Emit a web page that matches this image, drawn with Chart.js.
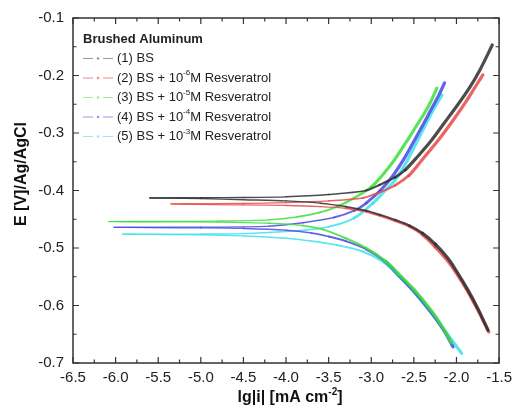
<!DOCTYPE html>
<html>
<head>
<meta charset="utf-8">
<script src="https://cdn.jsdelivr.net/npm/chart.js@4.4.0/dist/chart.umd.min.js"></script>
<style>
  html, body { margin: 0; padding: 0; background: #fff; }
  canvas { display: block; }
</style>
</head>
<body>
<canvas id="tafel" width="518" height="409"></canvas>
<script>
// Potentiodynamic polarisation (Tafel) curves, brushed aluminium in BS
// with increasing resveratrol concentration. Each series runs from the
// cathodic end, through the corrosion potential, out to the anodic end.

const xTicks = [-6.5, -6.0, -5.5, -5.0, -4.5, -4.0, -3.5, -3.0, -2.5, -2.0, -1.5];
const yTicks = [-0.7, -0.6, -0.5, -0.4, -0.3, -0.2, -0.1];

const legendTitle = 'Brushed Aluminum';
const legendPre  = ['(1) BS', '(2) BS + 10', '(3) BS + 10', '(4) BS + 10', '(5) BS + 10'];
const legendSup  = ['', '-6', '-5', '-4', '-3'];
const legendPost = ['', 'M Resveratrol', 'M Resveratrol', 'M Resveratrol', 'M Resveratrol'];

// (1) BS
const s1Lg = [-1.63, -1.75, -1.87, -2.00, -2.10, -2.25, -2.40, -2.55, -2.72, -2.90, -3.06, -3.30, -3.60, -4.00, -4.50, -5.00, -5.60,
              -5.00, -4.50, -4.00, -3.50, -3.06, -2.90, -2.72, -2.60, -2.45, -2.30, -2.15, -2.00, -1.85, -1.72, -1.58];
const s1E  = [-0.643, -0.605, -0.572, -0.540, -0.518, -0.493, -0.474, -0.461, -0.451, -0.442, -0.435, -0.428, -0.422, -0.418, -0.416, -0.414, -0.413,
              -0.4125, -0.4122, -0.411, -0.407, -0.400, -0.390, -0.377, -0.364, -0.340, -0.314, -0.284, -0.254, -0.222, -0.189, -0.147];

// (2) BS + 1e-6 M
const s2Lg = [-1.62, -1.75, -1.87, -2.00, -2.10, -2.25, -2.40, -2.55, -2.72, -2.90, -3.06, -3.30, -3.60, -4.00, -4.50, -5.35,
              -4.50, -4.00, -3.50, -3.10, -2.90, -2.72, -2.56, -2.40, -2.20, -2.05, -1.90, -1.78, -1.69];
const s2E  = [-0.646, -0.608, -0.575, -0.544, -0.523, -0.498, -0.477, -0.463, -0.453, -0.444, -0.437, -0.431, -0.428, -0.426, -0.425, -0.4235,
              -0.4225, -0.421, -0.418, -0.413, -0.403, -0.391, -0.374, -0.346, -0.310, -0.280, -0.248, -0.220, -0.199];

// (3) BS + 1e-5 M
const s3Lg = [-2.06, -2.15, -2.29, -2.50, -2.68, -2.83, -3.06, -3.30, -3.56, -3.80, -4.20, -4.80, -5.50, -6.08,
              -5.50, -4.80, -4.20, -3.87, -3.60, -3.40, -3.20, -3.00, -2.85, -2.72, -2.60, -2.48, -2.37, -2.30, -2.23];
const s3E  = [-0.665, -0.641, -0.610, -0.572, -0.545, -0.523, -0.500, -0.483, -0.468, -0.461, -0.457, -0.455, -0.4545, -0.454,
              -0.4538, -0.4532, -0.451, -0.446, -0.438, -0.428, -0.413, -0.394, -0.370, -0.345, -0.318, -0.290, -0.264, -0.245, -0.222];

// (4) BS + 1e-4 M
const s4Lg = [-2.04, -2.15, -2.29, -2.50, -2.68, -2.83, -3.06, -3.30, -3.50, -3.70, -4.00, -4.50, -5.00, -6.02,
              -5.00, -4.50, -4.20, -3.80, -3.44, -3.20, -3.06, -2.90, -2.75, -2.60, -2.48, -2.38, -2.29, -2.21, -2.14];
const s4E  = [-0.672, -0.643, -0.613, -0.575, -0.547, -0.524, -0.502, -0.488, -0.480, -0.474, -0.469, -0.466, -0.465, -0.464,
              -0.4637, -0.4633, -0.462, -0.456, -0.447, -0.435, -0.422, -0.401, -0.375, -0.341, -0.309, -0.282, -0.257, -0.235, -0.213];

// (5) BS + 1e-3 M
const s5Lg = [-1.94, -2.10, -2.29, -2.50, -2.68, -2.85, -3.10, -3.40, -3.70, -4.00, -4.50, -5.00, -5.92,
              -5.00, -4.50, -3.87, -3.50, -3.20, -2.98, -2.85, -2.72, -2.60, -2.45, -2.33, -2.25, -2.17];
const s5E  = [-0.683, -0.651, -0.614, -0.576, -0.548, -0.525, -0.506, -0.495, -0.488, -0.483, -0.479, -0.477, -0.476,
              -0.4757, -0.475, -0.470, -0.463, -0.448, -0.422, -0.402, -0.382, -0.354, -0.311, -0.276, -0.254, -0.234];

const lineColors   = ['rgba(45,45,45,0.85)', 'rgba(232,72,72,0.85)', 'rgba(62,222,62,0.85)', 'rgba(72,72,230,0.85)', 'rgba(62,226,236,0.85)'];
const legendColors = ['#9a9a9a', '#e89090', '#9ee89e', '#9a9ae8', '#9ae8ee'];

function toPoints(lg, e) { return lg.map((v, i) => ({ x: v, y: e[i] })); }

const series = [[s1Lg, s1E], [s2Lg, s2E], [s3Lg, s3E], [s4Lg, s4E], [s5Lg, s5E]];

const datasets = series.map(([lg, e], i) => ({
  data: toPoints(lg, e),
  showLine: true,
  borderColor: lineColors[i],
  borderWidth: 3,
  borderCapStyle: 'round',
  borderJoinStyle: 'round',
  pointRadius: 0,
  tension: 0.3,
  fill: false,
  segment: {
    // the stroke thickens gradually as the branch steepens away from Ecorr
    borderWidth: ctx => {
      const a = ctx.p0.parsed, b = ctx.p1.parsed;
      const slope = Math.abs((b.y - a.y) / (b.x - a.x || 1e-9));
      return 1.3 + 1.9 * Math.min(1, slope / 0.15);
    }
  }
}));

const FONT = '"Liberation Sans", Arial, sans-serif';

const frame = {
  id: 'frame',
  afterDraw(chart) {
    const { ctx, chartArea: a, scales: { x, y } } = chart;
    ctx.save();
    ctx.strokeStyle = '#333';
    ctx.lineWidth = 1.5;
    ctx.strokeRect(a.left, a.top, a.right - a.left, a.bottom - a.top);

    // ticks pointing inward on all four sides
    ctx.lineWidth = 1.2;
    ctx.beginPath();
    for (let i = 0; i < xTicks.length; i++) {
      const px = x.getPixelForValue(xTicks[i]);
      ctx.moveTo(px, a.bottom); ctx.lineTo(px, a.bottom - 6);
      ctx.moveTo(px, a.top); ctx.lineTo(px, a.top + 6);
      if (i < xTicks.length - 1) {
        const mx = x.getPixelForValue((xTicks[i] + xTicks[i + 1]) / 2);
        ctx.moveTo(mx, a.bottom); ctx.lineTo(mx, a.bottom - 3.5);
        ctx.moveTo(mx, a.top); ctx.lineTo(mx, a.top + 3.5);
      }
    }
    for (let i = 0; i < yTicks.length; i++) {
      const py = y.getPixelForValue(yTicks[i]);
      ctx.moveTo(a.left, py); ctx.lineTo(a.left + 6, py);
      ctx.moveTo(a.right, py); ctx.lineTo(a.right - 6, py);
      if (i < yTicks.length - 1) {
        const my = y.getPixelForValue((yTicks[i] + yTicks[i + 1]) / 2);
        ctx.moveTo(a.left, my); ctx.lineTo(a.left + 3.5, my);
        ctx.moveTo(a.right, my); ctx.lineTo(a.right - 3.5, my);
      }
    }
    ctx.stroke();

    // axis titles
    ctx.fillStyle = '#111';
    ctx.textBaseline = 'alphabetic';
    const xt1 = 'lg|i| [mA cm', xt2 = '-2', xt3 = ']';
    ctx.font = 'bold 16px ' + FONT;
    const w1 = ctx.measureText(xt1).width, w3 = ctx.measureText(xt3).width;
    ctx.font = 'bold 10px ' + FONT;
    const w2 = ctx.measureText(xt2).width;
    const tx = (a.left + a.right) / 2 + 4 - (w1 + w2 + w3) / 2;
    const ty = 402;
    ctx.textAlign = 'left';
    ctx.font = 'bold 16px ' + FONT;
    ctx.fillText(xt1, tx, ty);
    ctx.font = 'bold 10px ' + FONT;
    ctx.fillText(xt2, tx + w1, ty - 7);
    ctx.font = 'bold 16px ' + FONT;
    ctx.fillText(xt3, tx + w1 + w2, ty);

    ctx.save();
    ctx.translate(26, 174);
    ctx.rotate(-Math.PI / 2);
    ctx.textAlign = 'center';
    ctx.font = 'bold 16px ' + FONT;
    ctx.fillText('E [V]/Ag/AgCl', 0, 0);
    ctx.restore();

    // legend
    ctx.fillStyle = '#222';
    ctx.textAlign = 'left';
    ctx.textBaseline = 'middle';
    ctx.font = 'bold 13px ' + FONT;
    ctx.fillText(legendTitle, 83, 39);
    const rows = [58.5, 78, 97.5, 117, 136.5];
    for (let i = 0; i < rows.length; i++) {
      const ry = rows[i];
      ctx.strokeStyle = legendColors[i];
      ctx.lineWidth = 1.2;
      ctx.beginPath();
      ctx.moveTo(83, ry); ctx.lineTo(93, ry);
      ctx.moveTo(103, ry); ctx.lineTo(113, ry);
      ctx.stroke();
      ctx.fillStyle = legendColors[i];
      ctx.beginPath();
      ctx.arc(98, ry, 1.3, 0, Math.PI * 2);
      ctx.fill();

      ctx.fillStyle = '#222';
      ctx.font = '13px ' + FONT;
      let lx = 117;
      ctx.fillText(legendPre[i], lx, ry);
      lx += ctx.measureText(legendPre[i]).width;
      if (legendSup[i]) {
        ctx.font = '8px ' + FONT;
        ctx.fillText(legendSup[i], lx, ry - 5);
        lx += ctx.measureText(legendSup[i]).width;
        ctx.font = '13px ' + FONT;
        ctx.fillText(legendPost[i], lx, ry);
      }
    }
    ctx.restore();
  }
};

new Chart(document.getElementById('tafel'), {
  type: 'scatter',
  data: { datasets },
  options: {
    responsive: false,
    animation: false,
    devicePixelRatio: 1,
    layout: { padding: { left: 0, right: 13, top: 18, bottom: 0 } },
    plugins: { legend: { display: false }, tooltip: { enabled: false } },
    scales: {
      x: {
        type: 'linear',
        min: -6.5, max: -1.5,
        afterBuildTicks: s => { s.ticks = xTicks.map(v => ({ value: v })); },
        afterFit: s => { s.height = 46; },
        grid: { display: false, drawTicks: false },
        border: { display: false },
        ticks: {
          autoSkip: false, maxRotation: 0, padding: 6,
          color: '#222', font: { family: FONT, size: 15 },
          callback: v => Number(v).toFixed(1)
        }
      },
      y: {
        type: 'linear',
        min: -0.7, max: -0.1,
        afterBuildTicks: s => { s.ticks = yTicks.map(v => ({ value: v })); },
        afterFit: s => { s.width = 73; },
        grid: { display: false, drawTicks: false },
        border: { display: false },
        ticks: {
          autoSkip: false, padding: 9,
          color: '#222', font: { family: FONT, size: 15 },
          callback: v => Number(v).toFixed(1)
        }
      }
    }
  },
  plugins: [frame]
});
</script>
</body>
</html>
